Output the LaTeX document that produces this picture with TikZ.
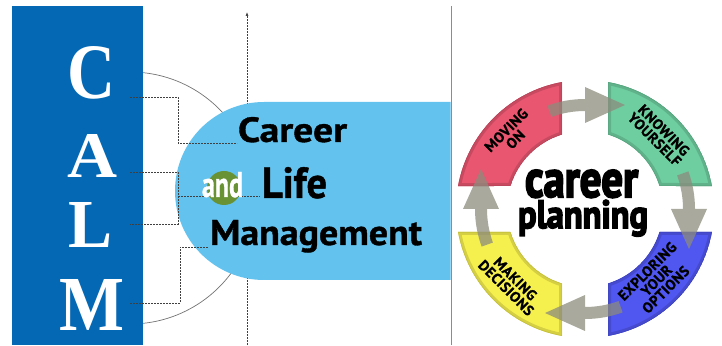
\documentclass[tikz,border=0pt]{standalone}
\usepackage{fontspec}
\usetikzlibrary{calc,arrows.meta}
\newfontfamily\calmfont{Liberation Serif}
\newfontfamily\headfont[FakeBold=1]{PT Sans}
\newfontfamily\heavyfont[FakeBold=4]{PT Sans}
\newfontfamily\segfont[FakeBold=1,LetterSpace=3]{PT Sans}
\definecolor{calmblue}{RGB}{4,104,180}
\definecolor{lightblue}{RGB}{99,195,238}
\definecolor{andgreen}{RGB}{104,146,52}
\definecolor{segred}{RGB}{232,86,112}
\definecolor{seggreen}{RGB}{110,206,160}
\definecolor{segblue}{RGB}{80,86,240}
\definecolor{segyellow}{RGB}{246,240,78}
\definecolor{arrowgray}{RGB}{140,140,125}
\newcommand\ringseg[1]{($(C)+(#1+10.27:129pt)$) arc[start angle=#1+10.27, end angle=#1+79.73, radius=129pt] -- ($(C)+(#1+72.85:78pt)$) arc[start angle=#1+72.85, end angle=#1+17.15, radius=78pt] -- cycle}
\newcommand\ringarrow[1]{($(C)+(#1+20:98pt)$) arc[start angle=#1+20, end angle=#1, radius=98pt] -- ($(C)+(#1:86pt)$) -- ($(C)+(#1:104pt)+(#1-90:40pt)$) -- ($(C)+(#1:122pt)$) -- ($(C)+(#1:110pt)$) arc[start angle=#1, end angle=#1+20, radius=110pt] -- cycle}
\tikzset{
  conn/.style={draw=black!75, line width=0.6pt, dash pattern=on 2pt off 1pt},
  word/.style={anchor=base west, inner sep=0pt, outer sep=0pt},
  segtext/.style={align=center, inner sep=0pt, font=\segfont\bfseries\fontsize{14.5}{13}\selectfont},
}
\begin{document}
\begin{tikzpicture}[x=1pt,y=1pt]
\useasboundingbox (0,0) rectangle (722,345);
% gray circle behind, visible right of the CALM bar only
\begin{scope}
  \clip (143,0) rectangle (300,345);
  \node[draw=black!55, line width=0.7pt, circle, minimum size=252pt, inner sep=0pt] (ring) at (130,147) {};
\end{scope}
% dashed vertical arrow line
\coordinate (vbot) at (247,0);
\coordinate (vtop) at (247,333);
\draw[conn, -{Latex[length=4pt,width=3pt]}] (vbot) -- (vtop);
% divider line
\coordinate (dbot) at (451,0);
\coordinate (dtop) at (451,339);
\draw[black!45, line width=0.9pt] (dbot) -- (dtop);
% light blue shape
\fill[lightblue] (450.5,243) -- (264,243) arc[start angle=90, end angle=270, radius=89] -- (450.5,65) -- cycle;
% CALM bar
\fill[calmblue] (12,0) rectangle (143,339);
% connectors
\coordinate (a1) at (130,248); \coordinate (a2) at (178,248); \coordinate (a3) at (178,202); \coordinate (a4) at (237,202);
\draw[conn] (a1) -- (a2) -- (a3) -- (a4);
\coordinate (b1) at (130,173); \coordinate (b2) at (178,173); \coordinate (b3) at (178,121); \coordinate (b4) at (130,121);
\coordinate (b5) at (178,149); \coordinate (b6) at (260,149);
\draw[conn] (b1) -- (b2) -- (b3) -- (b4);
\draw[conn] (b5) -- (b6);
\coordinate (m1) at (130,42); \coordinate (m2) at (180,42); \coordinate (m3) at (180,98); \coordinate (m4) at (208,98);
\draw[conn] (m1) -- (m2) -- (m3) -- (m4);
% CALM letters
\node[word, text=white] (lc) at (67,246) {\resizebox{48pt}{52pt}{\calmfont\bfseries C}};
\node[word, text=white] (la) at (67,167) {\resizebox{50pt}{43pt}{\calmfont\bfseries A}};
\node[word, text=white] (ll) at (68,97) {\resizebox{44pt}{45pt}{\calmfont\bfseries L}};
\node[word, text=white] (lm) at (59,14) {\resizebox{65pt}{51pt}{\calmfont\bfseries M}};
% and circle
\fill[andgreen] (224,157) circle (17);
\node[word, text=white] (tand) at (202,148) {\resizebox{41pt}{25pt}{\headfont\bfseries and}};
\node[word] (tcareer) at (238,203) {\resizebox{109pt}{25pt}{\headfont\bfseries Career}};
\node[word] (tlife) at (262,147) {\resizebox{65pt}{31pt}{\headfont\bfseries Life}};
\node[word] (tmanage) at (210,100) {\resizebox{212pt}{25pt}{\headfont\bfseries Management}};
% wheel
\coordinate (C) at (585,136);
\foreach \q/\col in {90/segred, 0/seggreen, -90/segblue, 180/segyellow}{
  \begin{scope}
    \clip \ringseg{\q};
    \fill[\col] \ringseg{\q};
    \draw[\col!70!black, line width=6pt, opacity=.45] \ringseg{\q};
    \draw[\col!80!black, line width=1.2pt] \ringseg{\q};
  \end{scope}
}
\foreach \h in {90,0,-90,180}{
  \fill[arrowgray, opacity=.75] \ringarrow{\h};
}
\node[segtext, rotate=45] (tmov) at ($(C)+(135:105pt)$) {MOVING\\ON};
\node[segtext, rotate=-45] (tknow) at ($(C)+(45:105pt)$) {KNOWING\\YOURSELF};
\node[segtext, rotate=45] (texp) at ($(C)+(-45:101pt)$) {EXPLORING\\YOUR\\OPTIONS};
\node[segtext, rotate=-45] (tmak) at ($(C)+(-135:105pt)$) {MAKING\\DECISIONS};
\node[word] (tcp1) at (525,148) {\resizebox{113pt}{27pt}{\heavyfont\bfseries career}};
\node[word] (tcp2) at (518,117) {\resizebox{130pt}{28pt}{\heavyfont\bfseries planning}};
\end{tikzpicture}
\end{document}
